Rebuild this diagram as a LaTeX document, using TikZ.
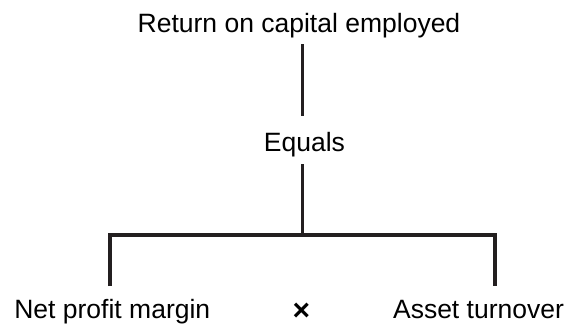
\documentclass[tikz,border=0pt]{standalone}
\usepackage{fontspec}
\setmainfont{Liberation Sans}
\definecolor{inkc}{HTML}{231F20}
\begin{document}
\begin{tikzpicture}[x=1pt,y=-1pt,
  lbl/.style={anchor=base,inner sep=0pt,text=black,font=\fontsize{26.5}{30}\selectfont},
  conn/.style={draw=inkc,line width=3.6pt}]
\useasboundingbox (0,0) rectangle (566,324);
\node[lbl] (title) at (299,32.3) {Return on capital employed};
\node[lbl] (equals) at (304.4,151.7) {Equals};
\node[lbl] (npm) at (112.3,318) {Net profit margin};
\node[lbl,anchor=center] (times) at (301.5,312) {\fontsize{30}{34}\selectfont\bfseries ×};
\node[lbl] (at) at (478.5,318) {Asset turnover};
\coordinate (c1) at (302.5,44);
\coordinate (c2) at (302.5,115.7);
\coordinate (c3) at (302.5,164);
\coordinate (hub) at (302.5,235.2);
\coordinate (lc) at (110,235.2);
\coordinate (rc) at (495,235.2);
\coordinate (lb) at (110,286);
\coordinate (rb) at (495,286);
\draw[conn] (c1) -- (c2);
\draw[conn] (c3) -- (hub);
\draw[conn] (lb) -- (lc) -- (rc) -- (rb);
\end{tikzpicture}
\end{document}
